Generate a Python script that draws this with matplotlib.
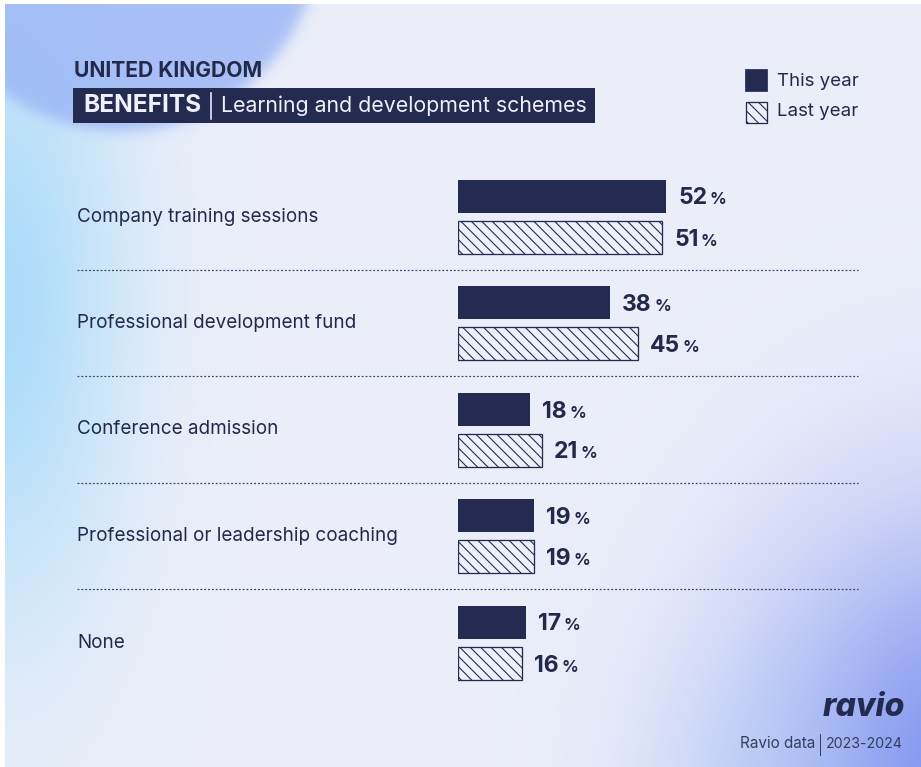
import numpy as np
import matplotlib
matplotlib.use('Agg')
import matplotlib.pyplot as plt
from matplotlib.patches import Rectangle
from matplotlib.lines import Line2D
from matplotlib.transforms import blended_transform_factory

# Data
categories = ['Company training sessions', 'Professional development fund',
              'Conference admission', 'Professional or leadership coaching', 'None']
this_year = [52, 38, 18, 19, 17]
last_year = [51, 45, 21, 19, 16]
series_names = ['This year', 'Last year']

NAVY = '#242b51'
TEXT = '#23294b'
LIGHT = '#eef0fb'
HATCH = chr(92) * 4    # dense back-diagonal hatch

W, H = 921, 767
DPI = 125
PT = 72 / DPI          # points per pixel

plt.rcParams['font.family'] = ['Inter', 'DejaVu Sans']
plt.rcParams['hatch.linewidth'] = 1.1 * PT

fig = plt.figure(figsize=(W / DPI, H / DPI), dpi=DPI)

# ---- background: soft coloured blobs on a lavender card ----
yy, xx = np.mgrid[0:H, 0:W].astype(float)
img = np.ones((H, W, 3)) * np.array([236, 239, 250]) / 255.0

def blend(img, weight, rgb):
    c = np.array(rgb) / 255.0
    w = np.clip(weight, 0, 1)[..., None]
    return img * (1 - w) + c * w

# cyan wash down the left edge
w_left = np.exp(-(xx / 125.0) ** 2) * np.exp(-((yy - 300) / 320.0) ** 2) * 0.9
img = blend(img, w_left, (165, 218, 250))
# blue disc in the top-left corner
d = np.hypot(xx - 120, yy + 70)
w_disc = 1 / (1 + np.exp((d - 200) / 4.0)) * 0.8
img = blend(img, w_disc, (152, 180, 245))
# blue glow at the bottom right
w_br = np.exp(-((xx - 960) / 210.0) ** 2 - ((yy - 790) / 270.0) ** 2) * 0.88
img = blend(img, w_br, (115, 135, 238))
w_br2 = np.exp(-((xx - 770) / 120.0) ** 2 - ((yy - 800) / 150.0) ** 2) * 0.35
img = blend(img, w_br2, (170, 200, 248))
# thin white frame on top/left
img[:4, :] = 1.0
img[:, :5] = 1.0

bg = fig.add_axes([0, 0, 1, 1])
bg.imshow(img, aspect='auto', extent=(0, W, H, 0), zorder=0)
bg.set_xlim(0, W)
bg.set_ylim(H, 0)
bg.axis('off')

# pixel coordinates, origin top-left
px = bg.transData

# ---- header ----
bg.text(74, 71, 'UNITED KINGDOM', fontsize=21 * PT, fontweight='bold',
        color=TEXT, va='center', ha='left')
bg.add_patch(Rectangle((73, 88), 522, 35, facecolor=NAVY, edgecolor='none'))
bg.text(83, 106, 'BENEFITS', fontsize=24.5 * PT, fontweight='bold',
        color='#eef0fa', va='center', ha='left')
bg.add_line(Line2D([211, 211], [93, 119], color='#eef0fa', lw=1.6 * PT))
bg.text(221, 106, 'Learning and development schemes', fontsize=21.3 * PT,
        color='#eef0fa', va='center', ha='left')

# ---- legend ----
bg.add_patch(Rectangle((746, 70), 21, 21, facecolor=NAVY, edgecolor=NAVY))
bg.add_patch(Rectangle((746, 102), 21, 21, facecolor=LIGHT, edgecolor=NAVY,
                       hatch=HATCH, lw=1.3 * PT))
bg.text(777, 81, series_names[0], fontsize=18.7 * PT, color=TEXT, va='center')
bg.text(777, 112, series_names[1], fontsize=18.7 * PT, color=TEXT, va='center')

# ---- footer ----
bg.text(905, 707, 'ravio', fontsize=32 * PT, fontweight='heavy', style='italic',
        color=NAVY, va='center', ha='right')
bg.text(815, 744, 'Ravio data', fontsize=15.3 * PT, color='#363d5e',
        va='center', ha='right')
bg.add_line(Line2D([820, 820], [734, 755], color='#363d5e', lw=1.0 * PT))
bg.text(903, 744, '2023-2024', fontsize=14.2 * PT, color='#363d5e',
        va='center', ha='right')

# ---- bars ----
row_px = 106.5
top_px = 216.5 - row_px / 2
n = len(categories)
ax = fig.add_axes([458 / W, 1 - (top_px + n * row_px) / H, 400 / W, n * row_px / H])
ax.set_xlim(0, 100)
ax.set_ylim(n - 0.5, -0.5)
ax.axis('off')

idx = np.arange(n)
bar_h = 33 / row_px
off = 20.5 / row_px

ax.barh(idx - off, this_year, height=bar_h, color=NAVY, edgecolor='none')
ax.barh(idx + off, last_year, height=bar_h, facecolor=LIGHT, edgecolor=NAVY,
        hatch=HATCH, lw=1.3 * PT)

def value_label(v, y):
    num = ax.annotate(str(v), xy=(v, y), xytext=(12 * PT, -8.5 * PT),
                      textcoords='offset points', fontsize=23 * PT,
                      fontweight='bold', color=TEXT, va='baseline', ha='left')
    ax.annotate('%', xy=(1, y), xycoords=(num, ax.transData),
                xytext=(2.5 * PT, -8.5 * PT), textcoords='offset points',
                fontsize=16.5 * PT, fontweight='bold', color=TEXT,
                va='baseline', ha='left')

for i in range(n):
    value_label(this_year[i], idx[i] - off)
    value_label(last_year[i], idx[i] + off)

# category names and dotted separators span the card width
lab_tr = blended_transform_factory(px, ax.transData)
for i, name in enumerate(categories):
    ax.text(77, idx[i], name, transform=lab_tr, fontsize=18.9 * PT,
            color=TEXT, va='center', ha='left', clip_on=False)
for i in range(n - 1):
    ax.plot([77, 858], [i + 0.5, i + 0.5], transform=lab_tr, color='#3d4468',
            lw=1.2 * PT, ls=(0, (1.6, 1.6)), clip_on=False)

fig.savefig('out.png', dpi=DPI)
